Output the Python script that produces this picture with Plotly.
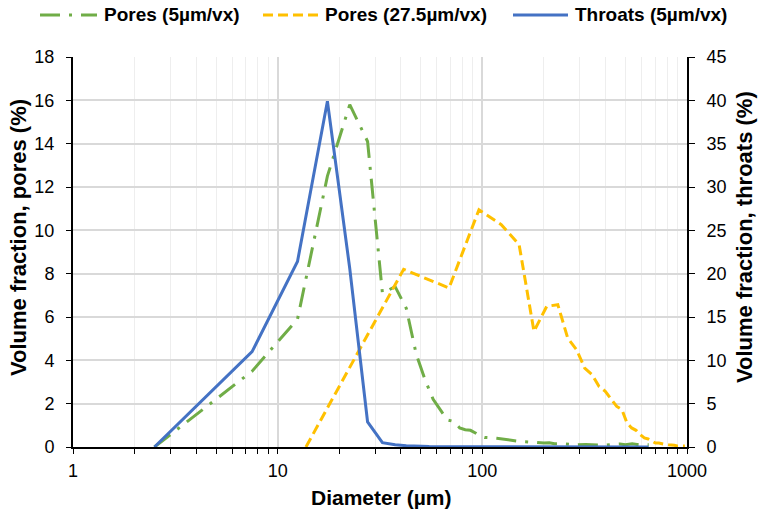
import plotly.graph_objects as go

# ---- data ----
pores5_d = [2.5, 7.5, 12.5, 17.5, 22.5, 27.5, 32.5, 37.5, 42.5, 47.5, 52.5, 57.5, 62.5,
            67.5, 72.5, 77.5, 82.5, 87.5, 92.5, 97.5, 102.5, 107.5, 112.5, 117.5, 122.5,
            127.5, 132.5, 155, 177.5, 190, 200, 212.5, 225, 250, 290, 320, 350, 370,
            400, 430, 470, 500, 540, 570, 600, 650]
pores5_v = [0.0, 3.5, 5.9, 12.5, 15.8, 14.1, 7.1, 7.4, 6.4, 4.3, 3.1, 2.2, 1.7,
            1.25, 1.18, 0.88, 0.8, 0.77, 0.65, 0.5, 0.44, 0.44, 0.42, 0.4, 0.38,
            0.37, 0.36, 0.25, 0.22, 0.2, 0.18, 0.2, 0.15, 0.15, 0.1, 0.12, 0.1, 0.1,
            0.08, 0.12, 0.14, 0.1, 0.15, 0.12, 0.1, 0.1]

pores27_d = [13.75, 41.25, 68.75, 96.25, 123.75, 151.25, 178.75, 206.25, 233.75,
             261.25, 288.75, 316.25, 343.75, 371.25, 398.75, 426.25, 453.75, 481.25,
             508.75, 536.25, 563.75, 591.25, 618.75, 646.25, 673.75, 701.25, 728.75,
             756.25, 783.75, 811.25, 838.75, 866.25, 893.75, 921.25, 948.75, 976.25]
pores27_v = [0.0, 8.2, 7.34, 10.95, 10.26, 9.34, 5.34, 6.49, 6.57,
             5.03, 4.49, 3.64, 3.34, 2.8, 2.57, 2.18, 1.87, 1.72,
             1.11, 0.88, 0.77, 0.57, 0.42, 0.37, 0.26, 0.18, 0.18,
             0.14, 0.12, 0.1, 0.1, 0.08, 0.05, 0.06, 0.05, 0.05]

throats_d = [2.5, 7.5, 12.5, 17.5, 22.5, 27.5, 32.5, 37.5, 42.5, 47.5, 55, 70, 100, 200, 400, 650]
throats_v = [0.0, 11.0, 21.4, 39.9, 20.6, 2.9, 0.5, 0.25, 0.15, 0.08, 0.05, 0.02, 0.02, 0.01, 0.01, 0.01]

series_names = ["Pores (5µm/vx)", "Pores (27.5µm/vx)", "Throats (5µm/vx)"]
series_colors = ["#70AD47", "#FFC000", "#4472C4"]
series_dash = ["20px,9px,3px,9px", "10px,5px", "solid"]

x_tickvals = [1, 10, 100, 1000]
x_ticktext = ["1", "10", "100", "1000"]

FONT = "Liberation Sans, Arial, sans-serif"

# plot area in pixels (for placing legend / titles)
W, H = 758, 517
L, R, T, B = 73, 71, 57, 70
PW, PH = W - L - R, H - T - B


def px_x(p):
    return (p - L) / PW


def px_y(p):
    return (H - B - p) / PH


fig = go.Figure()
fig.add_trace(go.Scatter(x=pores5_d, y=pores5_v, mode="lines", name=series_names[0],
                         line=dict(color=series_colors[0], width=3, dash=series_dash[0])))
fig.add_trace(go.Scatter(x=pores27_d, y=pores27_v, mode="lines", name=series_names[1],
                         line=dict(color=series_colors[1], width=3, dash=series_dash[1])))
fig.add_trace(go.Scatter(x=throats_d, y=throats_v, mode="lines", name=series_names[2],
                         yaxis="y2", line=dict(color=series_colors[2], width=3)))

# manual legend (longer samples like the reference)
legend_sample_x = [(40, 97), (263, 318), (513, 568)]
legend_y = 15
shapes = []
annotations = []
for (x0, x1), name, col, dsh in zip(legend_sample_x, series_names, series_colors, series_dash):
    shapes.append(dict(type="line", xref="paper", yref="paper",
                       x0=px_x(x0), x1=px_x(x1), y0=px_y(legend_y), y1=px_y(legend_y),
                       line=dict(color=col, width=3, dash=dsh)))
    annotations.append(dict(xref="paper", yref="paper", x=px_x(x1 + 5), y=px_y(legend_y),
                            xanchor="left", yanchor="middle", showarrow=False,
                            text="<b>" + name + "</b>",
                            font=dict(family=FONT, size=19, color="black")))

annotations.append(dict(xref="paper", yref="paper", x=px_x(381), y=px_y(497),
                        xanchor="center", yanchor="middle", showarrow=False,
                        text="<b>Diameter (µm)</b>", font=dict(family=FONT, size=21)))
annotations.append(dict(xref="paper", yref="paper", x=px_x(18), y=px_y(238),
                        xanchor="center", yanchor="middle", showarrow=False, textangle=-90,
                        text="<b>Volume fraction, pores (%)</b>", font=dict(family=FONT, size=22)))
annotations.append(dict(xref="paper", yref="paper", x=px_x(744), y=px_y(237),
                        xanchor="center", yanchor="middle", showarrow=False, textangle=-90,
                        text="<b>Volume fraction, throats (%)</b>", font=dict(family=FONT, size=22)))

fig.update_layout(
    width=W, height=H,
    margin=dict(l=L, r=R, t=T, b=B),
    paper_bgcolor="white", plot_bgcolor="white",
    font=dict(family=FONT, size=18, color="black"),
    showlegend=False,
    shapes=shapes,
    annotations=annotations,
    xaxis=dict(type="log", range=[0, 3], tickvals=x_tickvals, ticktext=x_ticktext,
               showline=True, linecolor="black", linewidth=2, ticks="outside",
               ticklen=5, tickcolor="black", showgrid=True, gridcolor="#d9d9d9",
               gridwidth=1.5, zeroline=False, ticklabelstandoff=1,
               minor=dict(dtick="D1", showgrid=True, gridcolor="#eeeeee", gridwidth=1,
                          ticks="outside", ticklen=5, tickcolor="black"),
               tickfont=dict(size=18)),
    yaxis=dict(range=[0, 18], dtick=2, showline=True, linecolor="black", linewidth=2,
               ticks="outside", ticklen=5, tickcolor="black", showgrid=True,
               gridcolor="#d9d9d9", gridwidth=1.5, zeroline=False, ticklabelstandoff=8,
               tickfont=dict(size=18)),
    yaxis2=dict(range=[0, 45], dtick=5, overlaying="y", side="right", showline=True,
                linecolor="black", linewidth=2, ticks="outside", ticklen=6,
                tickcolor="black", showgrid=False, zeroline=False, ticklabelstandoff=8,
                tickfont=dict(size=18)),
)

fig.write_html("out.html")
